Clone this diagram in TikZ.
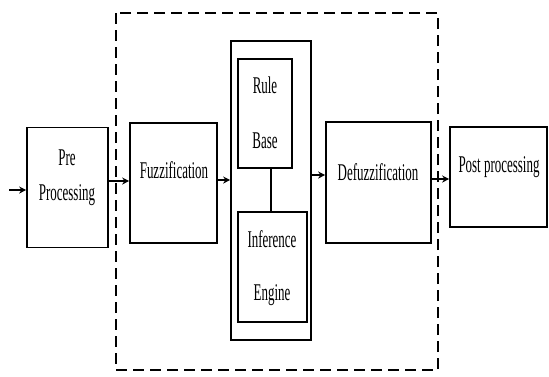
\documentclass[tikz,border=0pt]{standalone}
\usepackage{fontspec}
\newfontfamily\condserif[FakeStretch=0.54]{Liberation Serif}
\usetikzlibrary{arrows.meta}
\begin{document}
\begin{tikzpicture}[x=1pt,y=-1pt,
  blk/.style={draw,line width=1.6pt,fill=white,inner sep=0pt},
  lbl/.style={font=\condserif\fontsize{24}{25}\selectfont,inner sep=0pt,anchor=base},
  arr/.style={line width=1.6pt,-{Stealth[length=7pt,width=7pt]}},
  lnk/.style={line width=1.4pt},
  dashbox/.style={draw,line width=2.2pt,dash pattern=on 11pt off 6pt}]
\useasboundingbox (0,0) rectangle (549,376);
% dashed fuzzy system boundary
\draw[dashbox] (116,13) rectangle (438,370);
% boxes
\node[blk,minimum width=81pt,minimum height=120pt] (pre) at (67.5,187.5) {};
\node[blk,minimum width=87pt,minimum height=120pt] (fuz) at (173.5,183) {};
\node[blk,minimum width=80pt,minimum height=299pt] (core) at (271,190.5) {};
\node[blk,minimum width=54pt,minimum height=109pt] (rule) at (265,113.5) {};
\node[blk,minimum width=69pt,minimum height=110pt] (inf) at (272.5,267) {};
\node[blk,minimum width=105pt,minimum height=121pt] (def) at (378.5,182.5) {};
\node[blk,minimum width=97pt,minimum height=100pt] (post) at (498.5,177) {};
% labels
\node[lbl] (t1) at (67,165) {Pre};
\node[lbl] (t2) at (67,200) {Processing};
\node[lbl] (t3) at (174,178) {Fuzzification};
\node[lbl] (t4) at (265,93) {Rule};
\node[lbl] (t5) at (265,148) {Base};
\node[lbl] (t6) at (272,247) {Inference};
\node[lbl] (t7) at (272,300) {Engine};
\node[lbl] (t8) at (378,180) {Defuzzification};
\node[lbl] (t9) at (499,172) {Post processing};
% connectors
\coordinate (in) at (9,190);
\draw[arr] (in) -- (pre.west |- in);
\draw[arr] (pre.east |- 0,181) -- (fuz.west |- 0,181);
\draw[arr] (fuz.east |- 0,180) -- (core.west |- 0,180);
\draw[arr] (core.east |- 0,175) -- (def.west |- 0,175);
\draw[arr] (def.east |- 0,179) -- (post.west |- 0,179);
\draw[lnk] (rule.south -| 271,0) -- (inf.north -| 271,0);
\end{tikzpicture}
\end{document}
